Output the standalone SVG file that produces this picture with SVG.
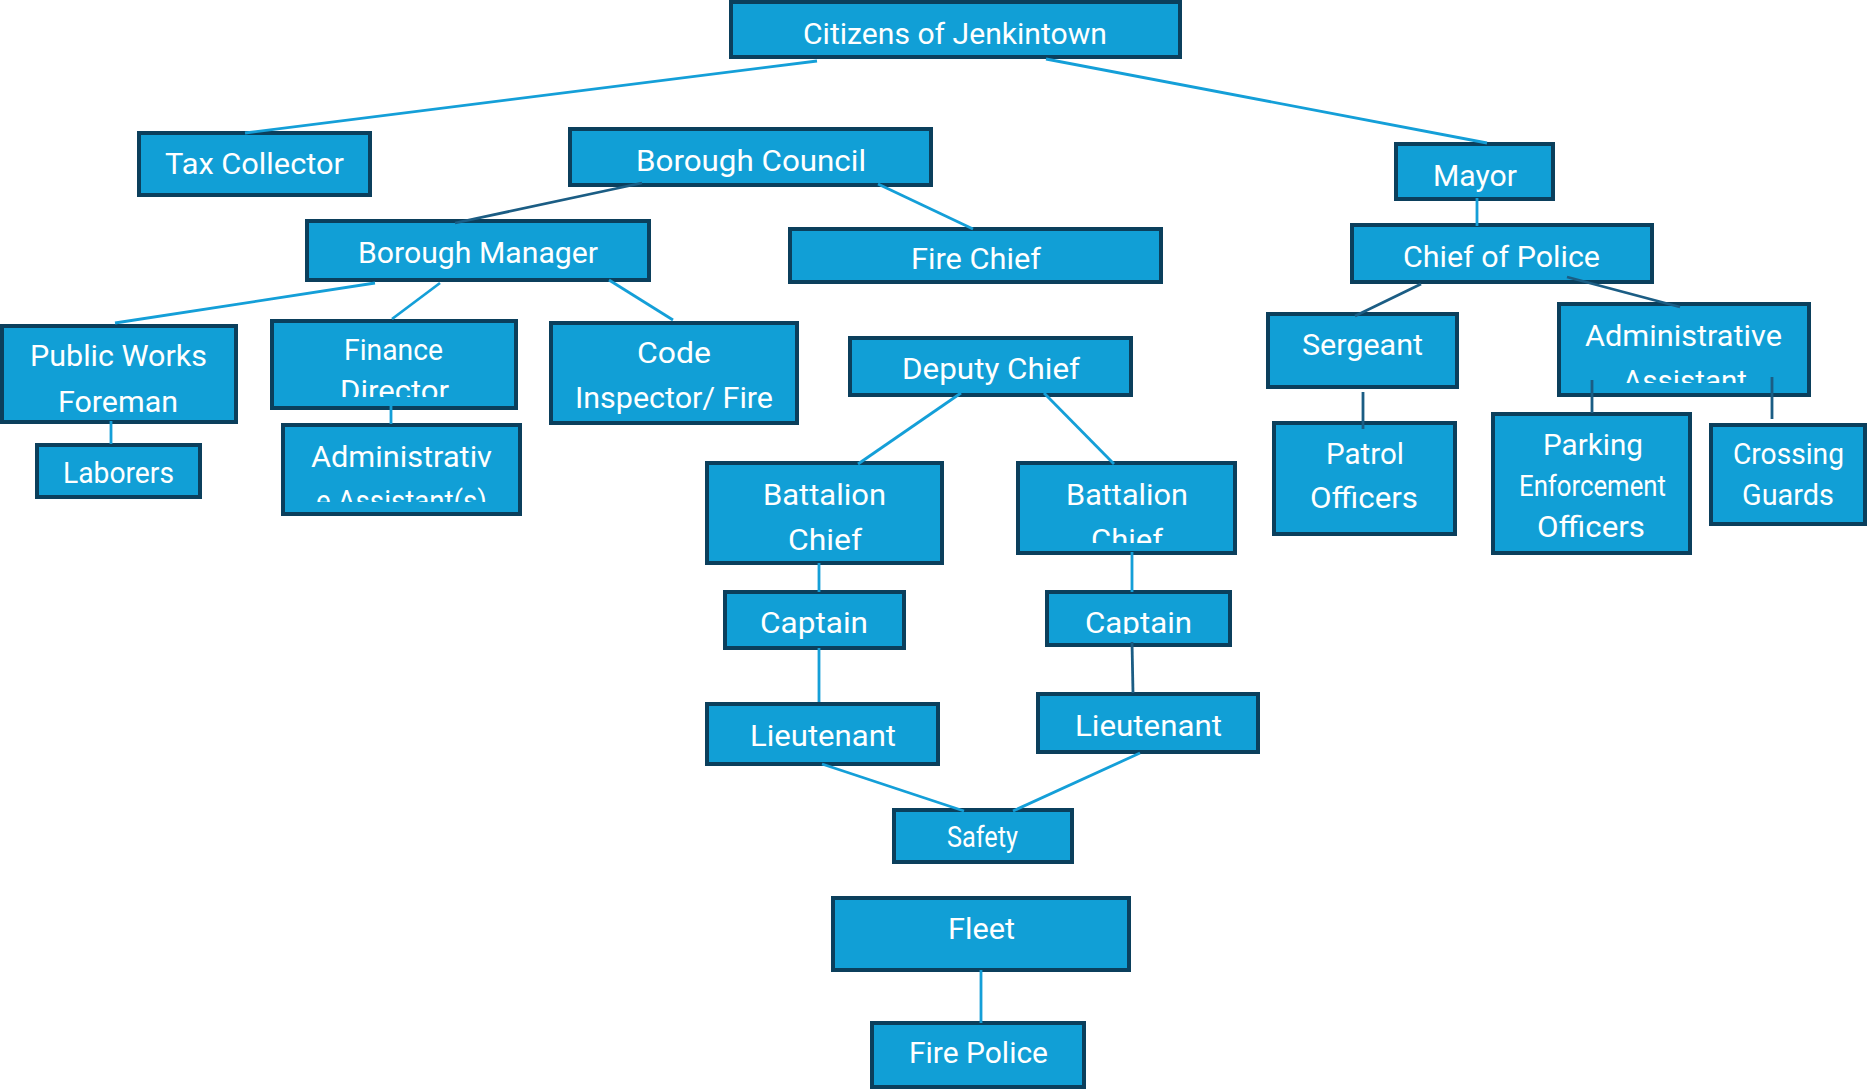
<svg xmlns="http://www.w3.org/2000/svg" width="1867" height="1090" viewBox="0 0 1867 1090">
<style>
.box{fill:#119fd6;stroke:#0b3f5c;stroke-width:4}
.t{font-family:Roboto,"Liberation Sans",sans-serif;fill:#ffffff;text-anchor:middle;font-size:29px}
.lt{stroke:#149fd8;stroke-width:2.8;fill:none}
.dk{stroke:#1b5d84;stroke-width:2.8;fill:none}
</style>
<defs>
<clipPath id="cDir"><rect x="270" y="319" width="248" height="78"/></clipPath>
<clipPath id="cAsst"><rect x="1557" y="302" width="254" height="81"/></clipPath>
<clipPath id="cAdm"><rect x="281" y="423" width="241" height="79"/></clipPath>
<clipPath id="cBcR"><rect x="1016" y="461" width="221" height="82"/></clipPath>
<clipPath id="cCapR"><rect x="1045" y="590" width="187" height="44"/></clipPath>
</defs>
<rect width="1867" height="1090" fill="#ffffff"/>

<g id="citizens"><rect class="box" x="731" y="2" width="449" height="55"/><text class="t" x="955" y="44" textLength="304" lengthAdjust="spacingAndGlyphs">Citizens of Jenkintown</text></g>
<g id="tax-collector"><rect class="box" x="139" y="133" width="231" height="62"/><text class="t" x="254.5" y="174" textLength="179" lengthAdjust="spacingAndGlyphs">Tax Collector</text></g>
<g id="borough-council"><rect class="box" x="570" y="129" width="361" height="56"/><text class="t" x="751" y="171" textLength="230" lengthAdjust="spacingAndGlyphs">Borough Council</text></g>
<g id="mayor"><rect class="box" x="1396" y="144" width="157" height="55"/><text class="t" x="1475" y="186" textLength="84" lengthAdjust="spacingAndGlyphs">Mayor</text></g>
<g id="borough-manager"><rect class="box" x="307" y="221" width="342" height="59"/><text class="t" x="478" y="263" textLength="240" lengthAdjust="spacingAndGlyphs">Borough Manager</text></g>
<g id="fire-chief"><rect class="box" x="790" y="229" width="371" height="53"/><text class="t" x="976" y="269" textLength="130" lengthAdjust="spacingAndGlyphs">Fire Chief</text></g>
<g id="chief-of-police"><rect class="box" x="1352" y="225" width="300" height="57"/><text class="t" x="1501.5" y="267" textLength="197" lengthAdjust="spacingAndGlyphs">Chief of Police</text></g>
<g id="public-works"><rect class="box" x="2" y="326" width="234" height="96"/><text class="t" x="118.5" y="366" font-size="28" textLength="177" lengthAdjust="spacingAndGlyphs">Public Works</text><text class="t" x="118" y="412" font-size="28" textLength="120" lengthAdjust="spacingAndGlyphs">Foreman</text></g>
<g id="finance-director"><rect class="box" x="272" y="321" width="244" height="87"/><text class="t" x="393.5" y="360" font-size="25" textLength="99" lengthAdjust="spacingAndGlyphs">Finance</text><text class="t" x="394.5" y="401" font-size="25" textLength="109" lengthAdjust="spacingAndGlyphs" clip-path="url(#cDir)">Director</text></g>
<g id="code-inspector"><rect class="box" x="551" y="323" width="246" height="100"/><text class="t" x="674" y="363" font-size="28" textLength="74" lengthAdjust="spacingAndGlyphs">Code</text><text class="t" x="674" y="408" font-size="28" textLength="198" lengthAdjust="spacingAndGlyphs">Inspector/ Fire</text></g>
<g id="deputy-chief"><rect class="box" x="850" y="338" width="281" height="57"/><text class="t" x="991" y="379" textLength="178" lengthAdjust="spacingAndGlyphs">Deputy Chief</text></g>
<g id="sergeant"><rect class="box" x="1268" y="314" width="189" height="73"/><text class="t" x="1362.5" y="355" textLength="121" lengthAdjust="spacingAndGlyphs">Sergeant</text></g>
<g id="admin-assistant-police"><rect class="box" x="1559" y="304" width="250" height="91"/><text class="t" x="1683.5" y="346" textLength="197" lengthAdjust="spacingAndGlyphs">Administrative</text><text class="t" x="1685" y="391" textLength="124" lengthAdjust="spacingAndGlyphs" clip-path="url(#cAsst)">Assistant</text></g>
<g id="laborers"><rect class="box" x="37" y="445" width="163" height="52"/><text class="t" x="118.5" y="483" font-size="26" textLength="111" lengthAdjust="spacingAndGlyphs">Laborers</text></g>
<g id="admin-assistants"><rect class="box" x="283" y="425" width="237" height="89"/><text class="t" x="401.5" y="467" font-size="28" textLength="181" lengthAdjust="spacingAndGlyphs">Administrativ</text><text class="t" x="401.5" y="511" font-size="28" textLength="171" lengthAdjust="spacingAndGlyphs" clip-path="url(#cAdm)">e Assistant(s)</text></g>
<g id="battalion-chief-left"><rect class="box" x="707" y="463" width="235" height="100"/><text class="t" x="824.5" y="505" textLength="123" lengthAdjust="spacingAndGlyphs">Battalion</text><text class="t" x="825" y="550" textLength="74" lengthAdjust="spacingAndGlyphs">Chief</text></g>
<g id="battalion-chief-right"><rect class="box" x="1018" y="463" width="217" height="90"/><text class="t" x="1127" y="505" textLength="122" lengthAdjust="spacingAndGlyphs">Battalion</text><text class="t" x="1127" y="550" textLength="72" lengthAdjust="spacingAndGlyphs" clip-path="url(#cBcR)">Chief</text></g>
<g id="patrol-officers"><rect class="box" x="1274" y="423" width="181" height="111"/><text class="t" x="1365" y="464" textLength="78" lengthAdjust="spacingAndGlyphs">Patrol</text><text class="t" x="1364" y="508" textLength="108" lengthAdjust="spacingAndGlyphs">Officers</text></g>
<g id="parking-enforcement"><rect class="box" x="1493" y="414" width="197" height="139"/><text class="t" x="1593" y="455" font-size="28" textLength="100" lengthAdjust="spacingAndGlyphs">Parking</text><text class="t" x="1592.5" y="496" font-size="22" textLength="147" lengthAdjust="spacingAndGlyphs">Enforcement</text><text class="t" x="1591" y="537" font-size="28" textLength="108" lengthAdjust="spacingAndGlyphs">Officers</text></g>
<g id="crossing-guards"><rect class="box" x="1711" y="425" width="154" height="99"/><text class="t" x="1788.5" y="464" font-size="28" textLength="111" lengthAdjust="spacingAndGlyphs">Crossing</text><text class="t" x="1788" y="505" font-size="28" textLength="92" lengthAdjust="spacingAndGlyphs">Guards</text></g>
<g id="captain-left"><rect class="box" x="725" y="592" width="179" height="56"/><text class="t" x="814" y="633" textLength="108" lengthAdjust="spacingAndGlyphs">Captain</text></g>
<g id="captain-right"><rect class="box" x="1047" y="592" width="183" height="53"/><text class="t" x="1138.5" y="633" textLength="107" lengthAdjust="spacingAndGlyphs" clip-path="url(#cCapR)">Captain</text></g>
<g id="lieutenant-left"><rect class="box" x="707" y="704" width="231" height="60"/><text class="t" x="823" y="746" textLength="146" lengthAdjust="spacingAndGlyphs">Lieutenant</text></g>
<g id="lieutenant-right"><rect class="box" x="1038" y="694" width="220" height="58"/><text class="t" x="1148.5" y="736" textLength="147" lengthAdjust="spacingAndGlyphs">Lieutenant</text></g>
<g id="safety"><rect class="box" x="894" y="810" width="178" height="52"/><text class="t" x="982.5" y="847" font-size="24" textLength="71" lengthAdjust="spacingAndGlyphs">Safety</text></g>
<g id="fleet"><rect class="box" x="833" y="898" width="296" height="72"/><text class="t" x="981.5" y="939" font-size="28" textLength="67" lengthAdjust="spacingAndGlyphs">Fleet</text></g>
<g id="fire-police"><rect class="box" x="872" y="1023" width="212" height="64"/><text class="t" x="978.5" y="1063" textLength="139" lengthAdjust="spacingAndGlyphs">Fire Police</text></g>

<g id="connectors">
<line class="lt" x1="817" y1="61" x2="245" y2="133"/>
<line class="lt" x1="1046" y1="59" x2="1487" y2="143"/>
<line class="lt" x1="878" y1="184" x2="973" y2="229"/>
<line class="lt" x1="375" y1="283" x2="115" y2="323"/>
<line class="lt" x1="440" y1="283" x2="392" y2="319"/>
<line class="lt" x1="609" y1="280" x2="673" y2="320"/>
<line class="lt" x1="1477" y1="198" x2="1477" y2="226"/>
<line class="lt" x1="111" y1="421" x2="111" y2="444"/>
<line class="lt" x1="391" y1="397" x2="391" y2="424"/>
<line class="lt" x1="961" y1="393" x2="858" y2="464"/>
<line class="lt" x1="1044" y1="393" x2="1114" y2="464"/>
<line class="lt" x1="819" y1="563" x2="819" y2="592"/>
<line class="lt" x1="1132" y1="552" x2="1132" y2="592"/>
<line class="lt" x1="819" y1="648" x2="819" y2="702"/>
<line class="lt" x1="822" y1="764" x2="964" y2="811"/>
<line class="lt" x1="1140" y1="753" x2="1013" y2="811"/>
<line class="lt" x1="981" y1="970" x2="981" y2="1023"/>
<line class="dk" x1="642" y1="183" x2="455" y2="223"/>
<line class="dk" x1="1421" y1="284" x2="1355" y2="316"/>
<line class="dk" x1="1567" y1="277" x2="1680" y2="307"/>
<line class="dk" x1="1363" y1="392" x2="1363" y2="429"/>
<line class="dk" x1="1592" y1="380" x2="1592" y2="413"/>
<line class="dk" x1="1772" y1="377" x2="1772" y2="419"/>
<line class="dk" x1="1132" y1="642" x2="1133" y2="693"/>
</g>
</svg>
